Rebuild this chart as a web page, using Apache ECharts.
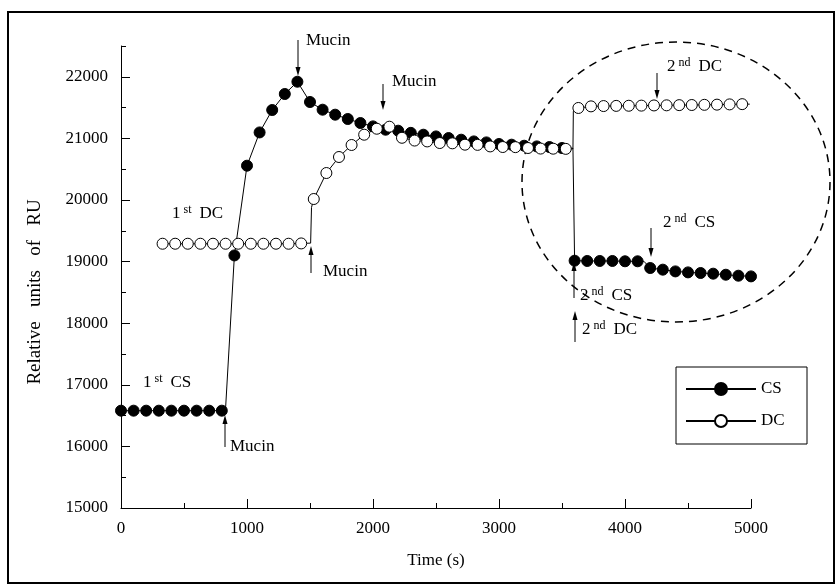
<!DOCTYPE html>
<html><head><meta charset="utf-8">
<script src="https://cdn.jsdelivr.net/npm/echarts@6/dist/echarts.min.js"></script>
<style>html,body{margin:0;padding:0;background:#fff}#c{width:837px;height:585px}</style>
</head><body><div id="c"></div>
<script>
// ---- data ----
const csTime  = [0,100,200,300,400,500,600,700,800,900,1000,1100,1200,1300,1400,1500,1600,1700,1800,1900,2000,2100,2200,2300,2400,2500,2600,2700,2800,2900,3000,3100,3200,3300,3400,3500,3600,3700,3800,3900,4000,4100,4200,4300,4400,4500,4600,4700,4800,4900,5000];
const csValue = [16580,16580,16580,16580,16580,16580,16580,16580,16580,19100,20557,21097,21461,21721,21920,21591,21466,21385,21315,21250,21195,21141,21125,21090,21060,21032,21006,20979,20951,20935,20909,20898,20881,20870,20860,20844,19015,19010,19010,19010,19005,19005,18896,18869,18841,18825,18815,18804,18787,18771,18760];
// line-only junction points (no marker)
const csLinkTime  = [830, 3587, 4150];
const csLinkValue = [16620, 20840, 19005];

const dcTime  = [330,430,530,630,730,830,930,1030,1130,1230,1330,1430,1530,1630,1730,1830,1930,2030,2130,2230,2330,2430,2530,2630,2730,2830,2930,3030,3130,3230,3330,3430,3530,3630,3730,3830,3930,4030,4130,4230,4330,4430,4530,4630,4730,4830,4930];
const dcValue = [19290,19290,19290,19290,19290,19290,19290,19290,19290,19290,19290,19295,20016,20438,20698,20893,21060,21157,21190,21010,20965,20951,20925,20920,20898,20895,20870,20860,20858,20844,20835,20833,20830,21494,21520,21525,21528,21530,21532,21535,21537,21540,21542,21545,21548,21552,21556];
const dcLinkTime  = [1505, 1512, 3587, 3590, 4990];
const dcLinkValue = [19300, 19880, 20830, 21440, 21556];

const yMajorTicks = [15000,16000,17000,18000,19000,20000,21000,22000];
const yMinorTicks = [15500,16500,17500,18500,19500,20500,21500,22500];
const seriesNames = ['CS','DC'];

// ---- build ----
function build(t, v, lt, lv) {
  const pts = t.map((x, i) => ({ value: [x, v[i]] }));
  lt.forEach((x, i) => pts.push({ value: [x, lv[i]], symbol: 'none' }));
  pts.sort((a, b) => a.value[0] - b.value[0]);
  return pts;
}
const FONT = '"Liberation Serif", "Times New Roman", serif';
const txt = { fontFamily: FONT, fontSize: 17, color: '#000' };
const plain = v => String(v);

function arrow(x, yStart, yTip) {
  const dir = yTip > yStart ? 1 : -1;
  return [
    { type: 'line', shape: { x1: x, y1: yStart, x2: x, y2: yTip - dir * 6 }, style: { stroke: '#000', lineWidth: 1 } },
    { type: 'polygon', shape: { points: [[x - 2.5, yTip - dir * 9], [x + 2.5, yTip - dir * 9], [x, yTip]] }, style: { fill: '#000' } }
  ];
}
function label(x, y, text) {
  return { type: 'text', x: x, y: y, style: { text: text, verticalAlign: 'middle', align: 'left', font: '17px ' + FONT, fill: '#000' } };
}
function supLabel(x, y, num, sup, word) {
  return {
    type: 'text', x: x, y: y,
    style: {
      text: '{n|' + num + '}{s|' + sup + '}{n|' + word + '}',
      verticalAlign: 'middle', align: 'left',
      rich: {
        n: { fontFamily: FONT, fontSize: 17, lineHeight: 20, fill: '#000' },
        s: { fontFamily: FONT, fontSize: 12, lineHeight: 12, verticalAlign: 'top', fill: '#000', padding: [0, 8, 0, 3] }
      }
    }
  };
}

const graphics = [].concat(
  [{ type: 'rect', shape: { x: 8, y: 12, width: 826, height: 571 }, style: { fill: 'none', stroke: '#000', lineWidth: 2 } }],
  [{ type: 'ellipse', shape: { cx: 676, cy: 182, rx: 154, ry: 140 }, style: { fill: 'none', stroke: '#000', lineWidth: 1.5, lineDash: [8, 6] } }],
  [{ type: 'rect', shape: { x: 676, y: 367, width: 131, height: 77 }, style: { fill: 'none', stroke: '#000', lineWidth: 1 } }],
  arrow(298, 40, 76), [label(306, 41, 'Mucin')],
  arrow(383, 84, 110), [label(392, 82, 'Mucin')],
  arrow(225, 447, 415), [label(230, 447, 'Mucin')],
  arrow(311, 273, 246), [label(323, 272, 'Mucin')],
  [supLabel(172, 214, '1', 'st', 'DC')],
  [supLabel(143, 383, '1', 'st', 'CS')],
  arrow(657, 73, 99), [supLabel(667, 67, '2', 'nd', 'DC')],
  arrow(651, 228, 257), [supLabel(663, 223, '2', 'nd', 'CS')],
  arrow(574, 298, 262), [supLabel(580, 296, '2', 'nd', 'CS')],
  arrow(575, 342, 311), [supLabel(582, 330, '2', 'nd', 'DC')]
);

const chart = echarts.init(document.getElementById('c'), null, { renderer: 'canvas' });
chart.setOption({
  animation: false,
  backgroundColor: '#fff',
  grid: { left: 121, right: 86, top: 46, bottom: 77, containLabel: false },
  legend: {
    orient: 'vertical', left: 685, top: 379, padding: 0,
    itemWidth: 70, itemHeight: 15, itemGap: 12,
    textStyle: Object.assign({ lineHeight: 20 }, txt),
    data: seriesNames
  },
  xAxis: {
    type: 'value', min: 0, max: 5000, interval: 1000,
    name: 'Time (s)', nameLocation: 'middle', nameGap: 44, nameTextStyle: txt,
    axisLine: { lineStyle: { color: '#000', width: 1 } },
    axisTick: { inside: true, length: 9, lineStyle: { color: '#000' } },
    minorTick: { show: true, splitNumber: 2, length: 5, lineStyle: { color: '#000' } },
    splitLine: { show: false },
    axisLabel: Object.assign({ margin: 12, formatter: plain }, txt)
  },
  yAxis: [{
    type: 'value', min: 15000, max: 22500,
    name: 'Relative   units   of   RU', nameLocation: 'middle', nameGap: 76,
    nameTextStyle: Object.assign({}, txt, { fontSize: 19, padding: [0, 30, 0, 0] }),
    axisLine: { show: true, lineStyle: { color: '#000', width: 1 } },
    axisTick: { inside: true, length: 9, lineStyle: { color: '#000' }, customValues: yMajorTicks },
    splitLine: { show: false },
    axisLabel: Object.assign({ margin: 13, customValues: yMajorTicks, formatter: plain }, txt)
  }, {
    type: 'value', min: 15000, max: 22500, position: 'left',
    axisLine: { show: false },
    axisTick: { show: true, inside: true, length: 5, lineStyle: { color: '#000' }, customValues: yMinorTicks },
    axisLabel: { show: false },
    splitLine: { show: false }
  }],
  series: [{
    name: seriesNames[0], type: 'line', data: build(csTime, csValue, csLinkTime, csLinkValue),
    symbol: 'circle', symbolSize: 11, showAllSymbol: true,
    lineStyle: { color: '#000', width: 1 },
    itemStyle: { color: '#000', borderColor: '#000', borderWidth: 1 }
  }, {
    name: seriesNames[1], type: 'line', data: build(dcTime, dcValue, dcLinkTime, dcLinkValue),
    symbol: 'circle', symbolSize: 11, showAllSymbol: true,
    lineStyle: { color: '#000', width: 1 },
    itemStyle: { color: '#fff', borderColor: '#000', borderWidth: 1 }
  }],
  graphic: graphics
});
</script></body></html>
